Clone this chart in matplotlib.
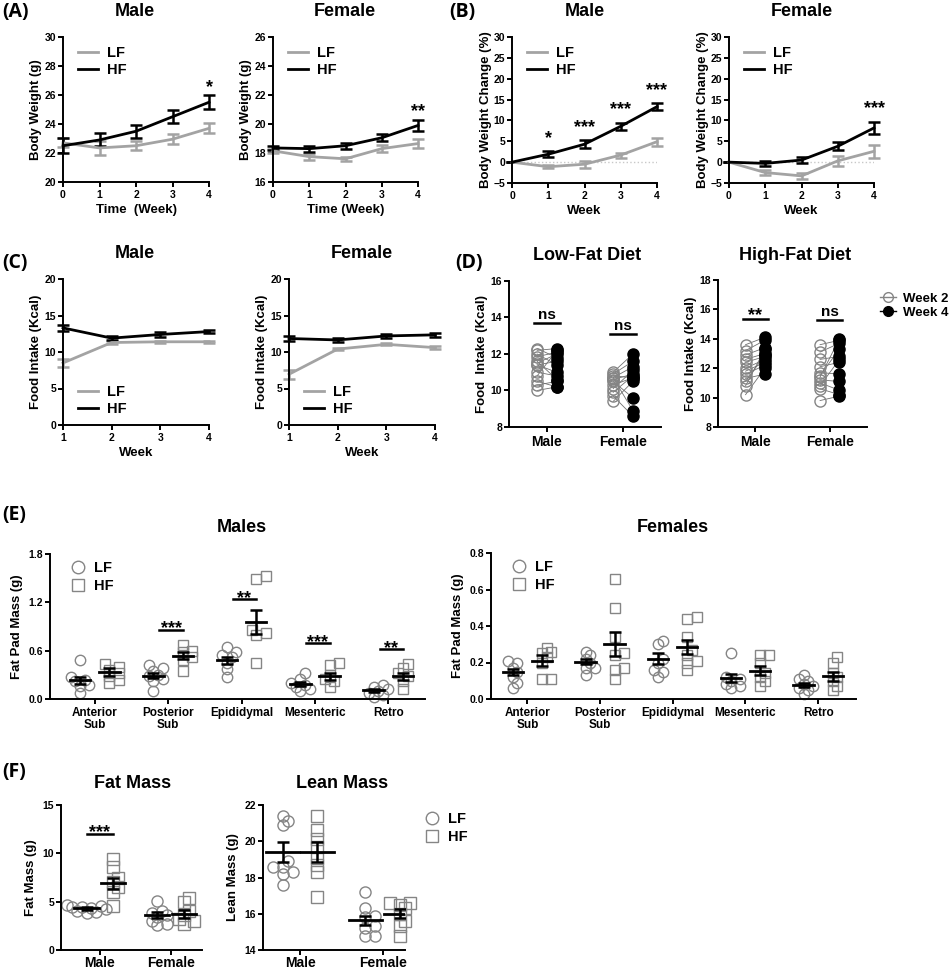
import numpy as np
import matplotlib
matplotlib.use('Agg')
import matplotlib.pyplot as plt
from matplotlib.lines import Line2D

# ---------------- data ----------------
weeks_bw = [0, 1, 2, 3, 4]
bw_male_lf = [22.7, 22.35, 22.5, 22.95, 23.7]
bw_male_lf_err = [0.3, 0.5, 0.3, 0.35, 0.35]
bw_male_hf = [22.5, 22.9, 23.5, 24.5, 25.5]
bw_male_hf_err = [0.5, 0.45, 0.45, 0.45, 0.5]
bw_female_lf = [18.15, 17.75, 17.6, 18.3, 18.65]
bw_female_lf_err = [0.15, 0.2, 0.15, 0.25, 0.3]
bw_female_hf = [18.35, 18.3, 18.5, 19.05, 19.9]
bw_female_hf_err = [0.15, 0.2, 0.2, 0.25, 0.4]
bw_male_sig = ['', '', '', '', '*']
bw_female_sig = ['', '', '', '', '**']

bwc_male_lf = [0, -1.1, -0.5, 1.7, 4.9]
bwc_male_lf_err = [0, 0.3, 0.8, 0.6, 1.0]
bwc_male_hf = [0, 1.9, 4.3, 8.6, 13.3]
bwc_male_hf_err = [0, 0.7, 1.0, 0.8, 0.8]
bwc_female_lf = [0, -2.5, -3.3, 0.3, 2.6]
bwc_female_lf_err = [0, 0.6, 0.8, 1.2, 1.5]
bwc_female_hf = [0, -0.3, 0.5, 3.8, 8.2]
bwc_female_hf_err = [0, 0.6, 0.8, 1.0, 1.5]
bwc_male_sig = ['', '*', '***', '***', '***']
bwc_female_sig = ['', '', '', '', '***']

weeks_fi = [1, 2, 3, 4]
fi_male_lf = [8.5, 11.3, 11.4, 11.4]
fi_male_lf_err = [0.5, 0.15, 0.15, 0.15]
fi_male_hf = [13.3, 11.9, 12.4, 12.8]
fi_male_hf_err = [0.4, 0.3, 0.3, 0.2]
fi_female_lf = [6.95, 10.4, 11.05, 10.6]
fi_female_lf_err = [0.6, 0.15, 0.15, 0.25]
fi_female_hf = [11.85, 11.65, 12.2, 12.35]
fi_female_hf_err = [0.3, 0.25, 0.3, 0.3]

sex_groups = ['Male', 'Female']
lfd_male_wk2 = [12.3, 12.2, 12.0, 11.85, 11.6, 11.5, 11.4, 11.4, 11.0, 10.8, 10.5, 10.3, 10.0]
lfd_male_wk4 = [11.8, 12.3, 11.4, 12.1, 10.6, 12.0, 11.0, 11.6, 10.8, 12.2, 10.2, 10.5, 10.2]
lfd_female_wk2 = [11.0, 10.9, 10.8, 10.7, 10.7, 10.6, 10.5, 10.3, 10.1, 9.9, 9.7, 9.4]
lfd_female_wk4 = [12.0, 11.6, 10.7, 11.3, 8.9, 10.9, 9.6, 10.7, 11.1, 10.8, 8.6, 10.5]
hfd_male_wk2 = [13.6, 13.2, 12.9, 12.6, 12.4, 12.0, 11.8, 11.6, 11.3, 11.1, 10.8, 10.2]
hfd_male_wk4 = [14.1, 13.9, 13.4, 13.0, 12.8, 12.6, 12.4, 12.2, 11.6, 12.9, 13.3, 12.0]
hfd_female_wk2 = [13.6, 13.1, 12.6, 12.1, 11.7, 11.5, 11.4, 11.2, 11.0, 10.8, 10.6, 9.8]
hfd_female_wk4 = [13.9, 13.7, 12.8, 12.4, 11.6, 13.3, 14.0, 11.1, 10.5, 12.6, 10.2, 10.1]
lfd_sig = ['ns', 'ns']
hfd_sig = ['**', 'ns']

fat_pads = ['Anterior\nSub', 'Posterior\nSub', 'Epididymal', 'Mesenteric', 'Retro']
pad_male_lf = [
    [0.49, 0.27, 0.24, 0.22, 0.18, 0.16, 0.07],
    [0.42, 0.38, 0.35, 0.30, 0.28, 0.25, 0.22, 0.10],
    [0.64, 0.58, 0.55, 0.52, 0.45, 0.37, 0.27],
    [0.32, 0.25, 0.20, 0.18, 0.15, 0.13, 0.10],
    [0.18, 0.15, 0.12, 0.10, 0.08, 0.05, 0.03],
]
pad_male_hf = [
    [0.43, 0.40, 0.36, 0.32, 0.28, 0.24, 0.20],
    [0.67, 0.60, 0.58, 0.52, 0.48, 0.35],
    [1.53, 1.49, 0.86, 0.82, 0.80, 0.45],
    [0.45, 0.42, 0.30, 0.25, 0.22, 0.15],
    [0.44, 0.38, 0.32, 0.28, 0.22, 0.12],
]
pad_male_lf_mean = [0.23, 0.29, 0.48, 0.19, 0.11]
pad_male_lf_sem = [0.045, 0.035, 0.04, 0.025, 0.02]
pad_male_hf_mean = [0.33, 0.54, 0.96, 0.28, 0.28]
pad_male_hf_sem = [0.05, 0.045, 0.15, 0.045, 0.045]
pad_male_sig = ['', '***', '**', '***', '**']
pad_male_sig_y = [0, 0.86, 1.24, 0.69, 0.62]

pad_female_lf = [
    [0.21, 0.20, 0.17, 0.15, 0.12, 0.09, 0.06],
    [0.26, 0.24, 0.22, 0.20, 0.17, 0.17, 0.13],
    [0.32, 0.30, 0.22, 0.20, 0.16, 0.15, 0.12],
    [0.25, 0.12, 0.11, 0.10, 0.08, 0.07, 0.06],
    [0.13, 0.11, 0.10, 0.08, 0.07, 0.06, 0.05, 0.03],
]
pad_female_hf = [
    [0.28, 0.26, 0.25, 0.23, 0.20, 0.11, 0.11],
    [0.66, 0.50, 0.34, 0.25, 0.24, 0.17, 0.16, 0.11],
    [0.45, 0.44, 0.34, 0.27, 0.24, 0.21, 0.20, 0.16],
    [0.24, 0.24, 0.20, 0.14, 0.12, 0.10, 0.07],
    [0.23, 0.20, 0.14, 0.12, 0.10, 0.07, 0.05],
]
pad_female_lf_mean = [0.147, 0.205, 0.22, 0.115, 0.078]
pad_female_lf_sem = [0.018, 0.015, 0.03, 0.022, 0.012]
pad_female_hf_mean = [0.21, 0.30, 0.285, 0.155, 0.125]
pad_female_hf_sem = [0.03, 0.065, 0.04, 0.025, 0.025]

fat_lf = [[4.7, 4.6, 4.5, 4.4, 4.3, 4.2, 4.0, 3.9, 3.8],
          [5.1, 4.0, 3.8, 3.6, 3.4, 3.0, 2.7, 2.6]]
fat_hf = [[9.4, 8.6, 7.5, 7.0, 6.5, 6.0, 4.6],
          [5.4, 5.0, 4.0, 3.6, 3.2, 3.0, 2.7]]
fat_lf_mean = [4.3, 3.6]
fat_lf_sem = [0.12, 0.3]
fat_hf_mean = [6.9, 3.75]
fat_hf_sem = [0.6, 0.4]
fat_sig = ['***', '']

lean_lf = [[21.4, 21.1, 20.9, 18.9, 18.6, 18.6, 18.3, 18.2, 17.6],
           [17.2, 16.3, 15.9, 15.8, 15.3, 15.2, 14.8, 14.8]]
lean_hf = [[21.4, 20.6, 20.1, 19.7, 19.1, 18.7, 18.3, 16.9],
           [16.6, 16.6, 16.5, 16.3, 16.0, 15.6, 15.3, 14.8]]
lean_lf_mean = [19.4, 15.65]
lean_lf_sem = [0.55, 0.25]
lean_hf_mean = [19.4, 16.0]
lean_hf_sem = [0.55, 0.25]

# ---------------- style ----------------
plt.rcParams['font.family'] = ['Liberation Sans', 'DejaVu Sans']
plt.rcParams['font.weight'] = 'bold'
plt.rcParams['axes.labelweight'] = 'bold'
plt.rcParams['axes.linewidth'] = 1.4
plt.rcParams['xtick.major.width'] = 1.4
plt.rcParams['ytick.major.width'] = 1.4
plt.rcParams['xtick.major.size'] = 3.5
plt.rcParams['ytick.major.size'] = 3.5
plt.rcParams['xtick.labelsize'] = 7.5
plt.rcParams['ytick.labelsize'] = 7.5
plt.rcParams['axes.labelsize'] = 9.5
plt.rcParams['xtick.major.pad'] = 2
plt.rcParams['ytick.major.pad'] = 1.5

W, H = 952, 973
fig = plt.figure(figsize=(W / 100, H / 100), dpi=100)

GRAY = '#a3a3a3'
PGRAY = '#858585'


def px_axes(x0, x1, y0, y1):
    ax = fig.add_axes([x0 / W, 1 - y1 / H, (x1 - x0) / W, (y1 - y0) / H])
    ax.spines['top'].set_visible(False)
    ax.spines['right'].set_visible(False)
    return ax


def fig_text(x, y, s, size, **kw):
    fig.text(x / W, 1 - y / H, s, fontsize=size, fontweight='bold', **kw)


def sig_text(ax, x, y, s, center_px, size=13):
    # place the visual centre of the glyphs center_px pixels above (x, y)
    rise = 0.59 if '*' in s else 0.27
    off = center_px * 0.72 - rise * size
    ax.annotate(s, (x, y), xytext=(0, off), textcoords='offset points',
                ha='center', va='baseline', fontsize=size, fontweight='bold')


def line_panel(ax, x, lf, lf_err, hf, hf_err, sig, sig_px, legend_loc, legend_anchor):
    ax.errorbar(x, lf, yerr=lf_err, color=GRAY, lw=2, capsize=4, capthick=1.8,
                elinewidth=1.8, clip_on=False)
    ax.errorbar(x, hf, yerr=hf_err, color='black', lw=2, capsize=4, capthick=1.8,
                elinewidth=1.8, clip_on=False)
    for xi, m, e, s in zip(x, hf, hf_err, sig):
        if s:
            sig_text(ax, xi, m + e, s, sig_px)
    h = [Line2D([], [], color=GRAY, lw=2), Line2D([], [], color='black', lw=2)]
    ax.legend(h, ['LF', 'HF'], loc=legend_loc, bbox_to_anchor=legend_anchor, frameon=False,
              fontsize=10.5, handlelength=1.4, handletextpad=0.6, labelspacing=0.2,
              borderaxespad=0)


# ---------------- (A) body weight ----------------
ax = px_axes(63, 209, 37, 182)
line_panel(ax, weeks_bw, bw_male_lf, bw_male_lf_err, bw_male_hf, bw_male_hf_err,
           bw_male_sig, 14, 'upper left', (0.06, 0.98))
ax.set_xlim(0, 4); ax.set_ylim(20, 30)
ax.set_xticks(weeks_bw); ax.set_yticks(np.arange(20, 31, 2))
ax.set_xlabel('Time  (Week)', labelpad=3); ax.set_ylabel('Body Weight (g)', labelpad=2)

ax = px_axes(273, 418, 37, 182)
line_panel(ax, weeks_bw, bw_female_lf, bw_female_lf_err, bw_female_hf, bw_female_hf_err,
           bw_female_sig, 14, 'upper left', (0.06, 0.98))
ax.set_xlim(0, 4); ax.set_ylim(16, 26)
ax.set_xticks(weeks_bw); ax.set_yticks(np.arange(16, 27, 2))
ax.set_xlabel('Time (Week)', labelpad=3); ax.set_ylabel('Body Weight (g)', labelpad=2)

# ---------------- (B) body weight change ----------------
for x0, lf, lfe, hf, hfe, sig in [
        (512, bwc_male_lf, bwc_male_lf_err, bwc_male_hf, bwc_male_hf_err, bwc_male_sig),
        (729, bwc_female_lf, bwc_female_lf_err, bwc_female_hf, bwc_female_hf_err, bwc_female_sig)]:
    ax = px_axes(x0, x0 + 145, 37, 183)
    ax.axhline(0, color='#c8c8c8', lw=1, ls=':', zorder=0)
    line_panel(ax, weeks_bw, lf, lfe, hf, hfe, sig, 19, 'upper left', (0.06, 0.98))
    ax.set_xlim(0, 4); ax.set_ylim(-5, 30)
    ax.set_xticks(weeks_bw); ax.set_yticks(np.arange(-5, 31, 5))
    ax.set_xlabel('Week', labelpad=3); ax.set_ylabel('Body Weight Change (%)', labelpad=1)

# ---------------- (C) food intake ----------------
for x0, lf, lfe, hf, hfe in [
        (63, fi_male_lf, fi_male_lf_err, fi_male_hf, fi_male_hf_err),
        (289, fi_female_lf, fi_female_lf_err, fi_female_hf, fi_female_hf_err)]:
    ax = px_axes(x0, x0 + 146, 279, 425)
    line_panel(ax, weeks_fi, lf, lfe, hf, hfe, [''] * 4, 0, 'lower left', (0.06, 0.02))
    ax.set_xlim(1, 4); ax.set_ylim(0, 20)
    ax.set_xticks(weeks_fi); ax.set_yticks(np.arange(0, 21, 5))
    ax.set_xlabel('Week', labelpad=3); ax.set_ylabel('Food Intake (Kcal)', labelpad=2)


# ---------------- (D) paired food intake ----------------
def paired_panel(ax, wk2, wk4, sig, sig_y):
    for i, (a, b) in enumerate(zip(wk2, wk4)):
        ax.plot([i - 0.13] * len(a), a, 'o', mfc='none', mec=PGRAY, mew=1, ms=8, zorder=3)
        ax.plot([i + 0.13] * len(b), b, 'o', mfc='black', mec='black', ms=8, zorder=3)
        for y2, y4 in zip(a, b):
            ax.plot([i - 0.13, i + 0.13], [y2, y4], color='#707070', lw=0.6, zorder=2)
        ax.plot([i - 0.17, i + 0.17], [sig_y[i]] * 2, color='black', lw=1.8)
        if sig[i] == 'ns':
            sig_text(ax, i, sig_y[i], sig[i], 8, size=11)
        else:
            sig_text(ax, i, sig_y[i], sig[i], 9, size=13)
    ax.set_xlim(-0.5, 1.5)
    ax.set_xticks([0, 1]); ax.set_xticklabels(sex_groups, fontsize=10)


ax = px_axes(509, 661, 281, 427)
paired_panel(ax, [lfd_male_wk2, lfd_female_wk2], [lfd_male_wk4, lfd_female_wk4], lfd_sig, [13.68, 13.09])
ax.set_ylim(8, 16); ax.set_yticks(np.arange(8, 17, 2))
ax.set_ylabel('Food  Intake (Kcal)', labelpad=2)

ax = px_axes(718, 867, 280, 427)
paired_panel(ax, [hfd_male_wk2, hfd_female_wk2], [hfd_male_wk4, hfd_female_wk4], hfd_sig, [15.38, 15.3])
ax.set_ylim(8, 18); ax.set_yticks(np.arange(8, 19, 2))
ax.set_ylabel('Food Intake (Kcal)', labelpad=2)
h = [Line2D([], [], color=PGRAY, lw=1, marker='o', mfc='none', mec=PGRAY, ms=7),
     Line2D([], [], color='black', lw=1, marker='o', mfc='black', mec='black', ms=7)]
ax.legend(h, ['Week 2', 'Week 4'], loc='upper left', bbox_to_anchor=(1.05, 0.95), frameon=False,
          fontsize=9.5, handlelength=1.2, handletextpad=0.6, labelspacing=0.15, borderaxespad=0)


# ---------------- scatter helpers ----------------
def swarm(values, center, ppx, ppy, diam):
    vals = np.asarray(values, float)
    xs = np.zeros(len(vals))
    placed = []
    for i in np.argsort(vals):
        y = vals[i] * ppy
        for k in [0, 1, -1, 2, -2, 3, -3, 4, -4]:
            x = k * diam * 0.45
            if all((x - px) ** 2 + (y - py) ** 2 >= (diam * 0.55) ** 2 for px, py in placed):
                break
        placed.append((x, y))
        xs[i] = center + x / ppx
    return xs


def group_scatter(ax, groups_lf, groups_hf, m_lf, s_lf, m_hf, s_hf, ppx, ppy, off, hw, ms):
    diam = ms / 0.72
    for i in range(len(groups_lf)):
        for vals, marker, m, s, c in [(groups_lf[i], 'o', m_lf[i], s_lf[i], i - off),
                                      (groups_hf[i], 's', m_hf[i], s_hf[i], i + off)]:
            xs = swarm(vals, c, ppx, ppy, diam)
            ax.plot(xs, vals, marker, mfc='none', mec=PGRAY, mew=1, ms=ms, ls='none',
                    zorder=2, clip_on=False)
            ax.plot([c - hw, c + hw], [m, m], color='black', lw=2, zorder=4)
            ax.errorbar(c, m, yerr=s, fmt='none', ecolor='black', elinewidth=1.8,
                        capsize=4.5, capthick=1.8, zorder=4)


def marker_legend(ax, loc, anchor, size):
    h = [Line2D([], [], ls='none', marker='o', mfc='none', mec=PGRAY, ms=9),
         Line2D([], [], ls='none', marker='s', mfc='none', mec=PGRAY, ms=9)]
    ax.legend(h, ['LF', 'HF'], loc=loc, bbox_to_anchor=anchor, frameon=False,
              fontsize=size, handlelength=1.0, handletextpad=0.6, labelspacing=0.25,
              borderaxespad=0)


# ---------------- (E) fat pads ----------------
ax = px_axes(50, 425, 554, 699)
group_scatter(ax, pad_male_lf, pad_male_hf, pad_male_lf_mean, pad_male_lf_sem,
              pad_male_hf_mean, pad_male_hf_sem, 73.2, 145 / 1.8, 0.2, 0.14, 7.5)
for i, (s, y) in enumerate(zip(pad_male_sig, pad_male_sig_y)):
    if s:
        ax.plot([i - 0.12, i + 0.2], [y, y], color='black', lw=1.8)
        sig_text(ax, i + 0.04, y, s, 7)
ax.set_xlim(-0.61, 4.5); ax.set_ylim(0, 1.8)
ax.set_yticks([0, 0.6, 1.2, 1.8]); ax.set_yticklabels(['0.0', '0.6', '1.2', '1.8'])
ax.set_xticks(range(5)); ax.set_xticklabels(fat_pads, fontsize=8.5, linespacing=1.05)
ax.set_ylabel('Fat Pad Mass (g)', labelpad=4)
marker_legend(ax, 'upper left', (0.04, 0.99), 10.5)

ax = px_axes(491, 856, 553, 699)
group_scatter(ax, pad_female_lf, pad_female_hf, pad_female_lf_mean, pad_female_lf_sem,
              pad_female_hf_mean, pad_female_hf_sem, 72.8, 146 / 0.8, 0.2, 0.14, 7.5)
ax.set_xlim(-0.5, 4.52); ax.set_ylim(0, 0.8)
ax.set_yticks([0, 0.2, 0.4, 0.6, 0.8])
ax.set_xticks(range(5)); ax.set_xticklabels(fat_pads, fontsize=8.5, linespacing=1.05)
ax.set_ylabel('Fat Pad Mass (g)', labelpad=4)
marker_legend(ax, 'upper left', (0.04, 0.99), 10.5)

# ---------------- (F) body composition ----------------
ax = px_axes(61, 202, 805, 950)
group_scatter(ax, fat_lf, fat_hf, fat_lf_mean, fat_lf_sem, fat_hf_mean, fat_hf_sem,
              71, 145 / 15, 0.19, 0.17, 8)
ax.plot([-0.19, 0.19], [12, 12], color='black', lw=1.8)
sig_text(ax, 0, 12, fat_sig[0], 8)
ax.set_xlim(-0.55, 1.44); ax.set_ylim(0, 15)
ax.set_yticks([0, 5, 10, 15])
ax.set_xticks([0, 1]); ax.set_xticklabels(sex_groups, fontsize=10)
ax.tick_params(axis='x', pad=1)
ax.set_ylabel('Fat Mass (g)', labelpad=4)

ax = px_axes(263, 405, 805, 950)
group_scatter(ax, lean_lf, lean_hf, lean_lf_mean, lean_lf_sem, lean_hf_mean, lean_hf_sem,
              83, 145 / 8, 0.21, 0.2, 8)
ax.set_xlim(-0.45, 1.27); ax.set_ylim(14, 22)
ax.set_yticks([14, 16, 18, 20, 22])
ax.set_xticks([0, 1]); ax.set_xticklabels(sex_groups, fontsize=10)
ax.tick_params(axis='x', pad=1)
ax.set_ylabel('Lean Mass (g)', labelpad=4)
marker_legend(ax, 'upper left', (1.1, 0.99), 10.5)

# ---------------- titles and panel letters ----------------
titles = [(135, 12, 'Male'), (345, 12, 'Female'), (585, 12, 'Male'), (802, 12, 'Female'),
          (135, 253, 'Male'), (362, 253, 'Female'), (587, 255, 'Low-Fat Diet'),
          (795, 255, 'High-Fat Diet'), (242, 528, 'Males'), (673, 528, 'Females'),
          (133, 783, 'Fat Mass'), (342, 783, 'Lean Mass')]
for x, y, s in titles:
    fig_text(x, y, s, 13, ha='center', va='center')

letters = [(2, 12, '(A)'), (449, 12, '(B)'), (2, 263, '(C)'), (455, 263, '(D)'),
           (2, 515, '(E)'), (2, 772, '(F)')]
for x, y, s in letters:
    fig.text(x / W, 1 - y / H, s, fontsize=14, fontweight='bold', family='Open Sans',
             ha='left', va='center')

fig.savefig('out.png', dpi=100)
